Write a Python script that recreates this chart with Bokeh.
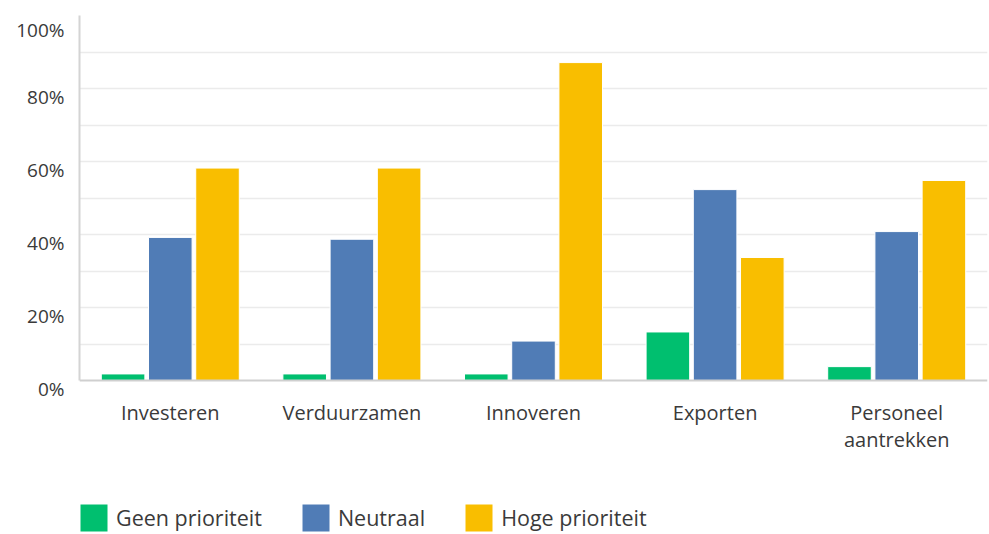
from bokeh.plotting import figure
from bokeh.models import (ColumnDataSource, FactorRange, Range1d, FixedTicker,
                          PrintfTickFormatter, Legend, LegendItem)
from bokeh.transform import dodge
from bokeh.embed import file_html
from bokeh.resources import INLINE

# ---- data ----
categories = ["Investeren", "Verduurzamen", "Innoveren", "Exporten", "Personeel\naantrekken"]
series_names = ["Geen prioriteit", "Neutraal", "Hoge prioriteit"]
geen_prioriteit = [1.8, 1.8, 1.8, 13.3, 3.8]
neutraal = [39.2, 38.7, 10.8, 52.3, 40.8]
hoge_prioriteit = [58.2, 58.2, 87.1, 33.7, 54.8]
y_tick_values = [0, 20, 40, 60, 80, 100]
grid_values = [10, 20, 30, 40, 50, 60, 70, 80, 90, 100]

colors = ["#00BF6F", "#507CB6", "#F9BE00"]
FONT = "Open Sans"
TXT = "#3a3a3a"

# layout: plot area 0..100 spans 365 px; frame continues 154 px below the
# baseline to leave room for category labels and the legend
PX_PER_UNIT = 365 / 100
Y_START = -154 / PX_PER_UNIT

src = ColumnDataSource(dict(cat=categories, geen=geen_prioriteit,
                            neutraal=neutraal, hoog=hoge_prioriteit))

p = figure(x_range=FactorRange(factors=categories, range_padding=0),
           y_range=Range1d(Y_START, 100),
           width=989, height=534,
           output_backend="svg", toolbar_location=None,
           min_border_left=79, min_border_right=2, min_border_top=15,
           min_border_bottom=0)
p.outline_line_color = None
p.background_fill_color = "white"
p.border_fill_color = "white"

offsets = [-0.26, 0.0, 0.26]
fields = ["geen", "neutraal", "hoog"]
renderers = []
for off, fld, col in zip(offsets, fields, colors):
    r = p.vbar(x=dodge("cat", off, range=p.x_range), top=fld, bottom=0, width=0.24,
               source=src, fill_color=col, line_color="white", line_width=1)
    renderers.append(r)

# grid
p.xgrid.grid_line_color = None
p.ygrid.ticker = FixedTicker(ticks=grid_values)
p.ygrid.grid_line_color = "#ebebeb"
p.ygrid.grid_line_width = 1.5

# y axis
p.yaxis.ticker = FixedTicker(ticks=y_tick_values)
p.yaxis.formatter = PrintfTickFormatter(format="\n%d%%")
p.yaxis.bounds = (0, 100)
p.yaxis.axis_line_color = "#d4d4d4"
p.yaxis.axis_line_width = 2
p.yaxis.major_tick_line_color = None
p.yaxis.minor_tick_line_color = None
p.yaxis.major_tick_out = 0
p.yaxis.major_label_standoff = 15
p.yaxis.major_label_text_font = FONT
p.yaxis.major_label_text_font_size = "19px"
p.yaxis.major_label_text_color = TXT
p.yaxis.major_label_text_line_height = 0.65

# x axis, drawn at y = 0
p.xaxis.fixed_location = 0
p.xaxis.axis_line_color = "#cfcfcf"
p.xaxis.axis_line_width = 2
p.xaxis.major_tick_line_color = None
p.xaxis.minor_tick_line_color = None
p.xaxis.major_tick_out = 0
p.xaxis.major_label_standoff = 18
p.xaxis.major_label_text_font = FONT
p.xaxis.major_label_text_font_size = "20px"
p.xaxis.major_label_text_color = TXT
p.xaxis.major_label_text_line_height = 1.0

# legend at the bottom of the frame
legend = Legend(items=[LegendItem(label=n, renderers=[r]) for n, r in zip(series_names, renderers)],
                orientation="horizontal", location=(-3, -1),
                glyph_width=35, glyph_height=35, label_standoff=5, spacing=36,
                padding=0, margin=0, border_line_color=None,
                label_text_font=FONT, label_text_font_size="21.5px",
                label_text_color=TXT, background_fill_alpha=0)
p.add_layout(legend, "center")

open("out.html", "w").write(file_html(p, INLINE))
